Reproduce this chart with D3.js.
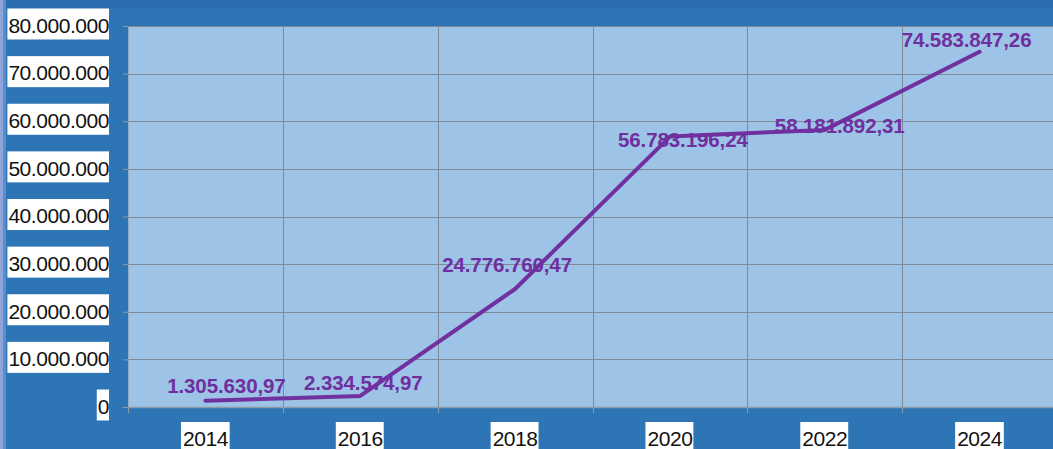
<!DOCTYPE html>
<html>
<head>
<meta charset="utf-8">
<script src="https://cdn.jsdelivr.net/npm/d3@7"></script>
<style>
  html, body { margin: 0; padding: 0; background: #2e75b6; overflow: hidden; }
  svg { display: block; }
</style>
</head>
<body>
<svg id="chart" width="1053" height="449"></svg>
<script>
// ---- data ----
const categories = ["2014", "2016", "2018", "2020", "2022", "2024"];
const values = [1305630.97, 2334574.97, 24776760.47, 56783196.24, 58181892.31, 74583847.26];
const valueLabels = ["1.305.630,97", "2.334.574,97", "24.776.760,47", "56.783.196,24", "58.181.892,31", "74.583.847,26"];
const yTicks = [0, 10000000, 20000000, 30000000, 40000000, 50000000, 60000000, 70000000, 80000000];
const yTickLabels = ["0", "10.000.000", "20.000.000", "30.000.000", "40.000.000", "50.000.000", "60.000.000", "70.000.000", "80.000.000"];

// ---- style (label nudges, px) ----
const labelDx = [21, 3, -8, 13, 15, -13];
const labelDy = [-8, -6, -17, 10, 3, -5];

const W = 1053, H = 449;
const plot = { left: 128, top: 26, right: 1057, bottom: 407 };
const FONT = "'Liberation Sans', Arial, sans-serif";
const svg = d3.select("#chart");

// background
svg.append("rect").attr("x", 0).attr("y", 0).attr("width", W).attr("height", H).attr("fill", "#2e75b6");
svg.append("rect").attr("x", 0).attr("y", 0).attr("width", W).attr("height", 8).attr("fill", "#2c6cb0");
svg.append("rect").attr("x", 0).attr("y", 0).attr("width", 3).attr("height", H).attr("fill", "#8fa5d8");
svg.append("rect").attr("x", 3).attr("y", 0).attr("width", 3).attr("height", H).attr("fill", "#5a8cd0");

const x = d3.scaleBand().domain(categories).range([plot.left, plot.right]).paddingInner(0).paddingOuter(0);
const y = d3.scaleLinear().domain([0, 80000000]).range([plot.bottom, plot.top]);

// plot area
svg.append("rect")
  .attr("x", plot.left).attr("y", plot.top)
  .attr("width", plot.right - plot.left).attr("height", plot.bottom - plot.top)
  .attr("fill", "#9dc3e6");

// horizontal gridlines
svg.append("g").selectAll("line").data(yTicks.slice(1)).join("line")
  .attr("x1", plot.left).attr("x2", plot.right)
  .attr("y1", d => Math.round(y(d)) + 0.5).attr("y2", d => Math.round(y(d)) + 0.5)
  .attr("stroke", "#7f8a96").attr("stroke-width", 1);

// vertical gridlines at category boundaries
svg.append("g").selectAll("line").data(categories.slice(1)).join("line")
  .attr("x1", d => Math.round(x(d)) + 0.5).attr("x2", d => Math.round(x(d)) + 0.5)
  .attr("y1", plot.top).attr("y2", plot.bottom)
  .attr("stroke", "#7f8a96").attr("stroke-width", 1);

// y axis
const yAxis = d3.axisLeft(y).tickValues(yTicks).tickSize(5).tickFormat((d, i) => yTickLabels[i]);
const gy = svg.append("g").attr("transform", `translate(${plot.left},0)`).call(yAxis);
gy.select(".domain").attr("stroke", "#8d9aa8").attr("stroke-opacity", 0.6);
gy.selectAll(".tick line").attr("stroke", "#8d9aa8");
gy.selectAll(".tick text")
  .attr("x", -19).attr("dy", "0.3em")
  .attr("fill", "#111")
  .attr("font-family", FONT)
  .attr("font-size", 21)
  .attr("letter-spacing", "-0.45px")
  .attr("text-anchor", "end");
gy.selectAll(".tick").each(function() {
  const t = d3.select(this);
  const txt = t.select("text");
  const bb = txt.node().getBBox();
  t.insert("rect", "text")
    .attr("x", bb.x - 1).attr("y", -18)
    .attr("width", bb.width + 1).attr("height", 31)
    .attr("fill", "#ffffff");
});

// x axis
const xAxis = d3.axisBottom(x).tickSize(0).tickSizeOuter(0);
const gx = svg.append("g").attr("transform", `translate(0,${plot.bottom})`).call(xAxis);
gx.select(".domain").attr("stroke", "#8d9aa8").attr("stroke-width", 1.5);
gx.selectAll(".tick text")
  .attr("y", 39).attr("dy", 0)
  .attr("fill", "#111")
  .attr("font-family", FONT)
  .attr("font-size", 21)
  .attr("letter-spacing", "-0.45px");
gx.selectAll(".tick").each(function() {
  const t = d3.select(this);
  const txt = t.select("text");
  const bb = txt.node().getBBox();
  t.insert("rect", "text")
    .attr("x", bb.x - 2).attr("y", 15)
    .attr("width", bb.width + 3).attr("height", 32)
    .attr("fill", "#ffffff");
});
// boundary tick marks below x axis
svg.append("g").selectAll("line").data(categories).join("line")
  .attr("x1", d => Math.round(x(d)) + 0.5).attr("x2", d => Math.round(x(d)) + 0.5)
  .attr("y1", plot.bottom).attr("y2", plot.bottom + 6)
  .attr("stroke", "#8d9aa8").attr("stroke-width", 1);

// line
const line = d3.line()
  .x((d, i) => x(categories[i]) + x.bandwidth() / 2)
  .y(d => y(d));
svg.append("path")
  .datum(values)
  .attr("d", line)
  .attr("fill", "none")
  .attr("stroke", "#7030a0")
  .attr("stroke-width", 4)
  .attr("stroke-linejoin", "round")
  .attr("stroke-linecap", "round");

// data labels
svg.append("g").selectAll("text").data(values).join("text")
  .attr("x", (d, i) => x(categories[i]) + x.bandwidth() / 2 + labelDx[i])
  .attr("y", (d, i) => y(d) + labelDy[i])
  .attr("text-anchor", "middle")
  .attr("fill", "#6f2f9f")
  .attr("font-family", FONT)
  .attr("font-weight", "bold")
  .attr("font-size", 20.5)
  .attr("letter-spacing", "-0.1px")
  .text((d, i) => valueLabels[i]);
</script>
</body>
</html>
